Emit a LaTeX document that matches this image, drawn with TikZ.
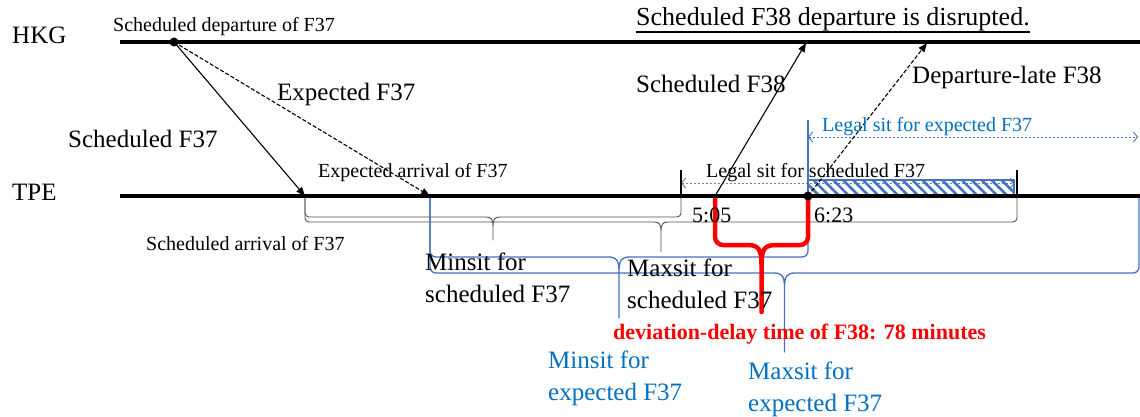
\documentclass[tikz,border=0pt]{standalone}
\usepackage{fontspec}
\setmainfont{Liberation Serif}
\usetikzlibrary{arrows.meta,patterns.meta}

\definecolor{bluetxt}{RGB}{0,112,192}
\definecolor{blueln}{RGB}{68,114,196}
\definecolor{grayln}{RGB}{80,80,80}
\definecolor{dotgray}{RGB}{127,127,127}

% brace hanging under the TPE line: x1, x2, depth, tip, corner, style
\newcommand{\sitbrace}[6]{%
  \draw[#6] (#1,196) -- (#1,#3-#5) to[out=-90,in=180] (#1+#5,#3)
    -- ({(#1+#2)/2-1.8*#5},#3)
    .. controls ({(#1+#2)/2-0.4*#5},#3) and ({(#1+#2)/2},#3+0.5*#5) .. ({(#1+#2)/2},#3+2.5*#5)
    -- ({(#1+#2)/2},#4) -- ({(#1+#2)/2},#3+2.5*#5)
    .. controls ({(#1+#2)/2},#3+0.5*#5) and ({(#1+#2)/2+0.4*#5},#3) .. ({(#1+#2)/2+1.8*#5},#3)
    -- (#2-#5,#3) to[out=0,in=-90] (#2,#3-#5) -- (#2,196);}

\begin{document}
\begin{tikzpicture}[
  x=1pt, y=-1pt,
  big/.style={font=\fontsize{25}{32}\selectfont,inner sep=0pt,align=left,anchor=base west},
  small/.style={font=\fontsize{20}{24}\selectfont,inner sep=0pt,anchor=base west},
  time/.style={font=\fontsize{22}{26}\selectfont,inner sep=0pt,anchor=base west},
  route/.style={line width=3.2pt},
  arr/.style={-{Triangle[length=9pt,width=7pt]},line width=1.1pt},
  arrd/.style={-{Triangle[length=9pt,width=7pt]},line width=1.1pt,dash pattern=on 4pt off 2pt},
  tick/.style={line width=1.4pt},
  gdot/.style={{Straight Barb[length=4pt,width=10pt]}-{Straight Barb[length=4pt,width=10pt]},dotgray,line width=0.9pt,dash pattern=on 2pt off 2pt},
  bdot/.style={{Straight Barb[length=4pt,width=10pt]}-{Straight Barb[length=4pt,width=10pt]},blueln,line width=0.9pt,dash pattern=on 2pt off 2pt},
  brc/.style={grayln,line width=0.9pt,line join=round},
  bbrc/.style={blueln,line width=1.3pt,line join=round},
  rbrc/.style={red,line width=4.5pt,line join=round}
]
\useasboundingbox (0,0) rectangle (1140,416);

% time points
\coordinate (dep37) at (174,42);
\coordinate (sarr37) at (305,196);
\coordinate (earr37) at (430,196);
\coordinate (sdep38) at (715,196);
\coordinate (sarr38) at (806,43);
\coordinate (ldep38) at (808,196);
\coordinate (larr38) at (927,43);
\coordinate (lsl) at (681,183);
\coordinate (lsr) at (1015,183);
\coordinate (lel) at (808,137);
\coordinate (ler) at (1138,137);

% sit braces
\sitbrace{305}{681}{217}{240}{4}{brc}
\sitbrace{305}{1017}{222}{252}{4}{brc}
\sitbrace{430}{808}{257}{318}{6}{bbrc}
\sitbrace{430}{1139}{273}{352}{6}{bbrc}
\sitbrace{715}{808}{245}{312}{8}{rbrc}

% legal sit
\draw[gdot] (lsl) -- (lsr);
\draw[blueln,line width=1.2pt,fill=white,pattern={Lines[angle=-45,distance=7pt,line width=2.6pt]},pattern color=blueln]
  (808,180) rectangle (1014,196);
\draw[tick] (681,170) -- (681,196);
\draw[tick] (1017,170) -- (1017,196);
\draw[blueln,line width=1.3pt] (808,120) -- (808,196);
\draw[bdot] (lel) -- (ler);

% stations
\draw[route] (120,42) -- (1140,42);
\draw[route] (120,196) -- (1140,196);

% flights
\draw[arr] (dep37) -- (sarr37);
\draw[arrd] (dep37) -- (earr37);
\draw[arr] (sdep38) -- (sarr38);
\draw[arrd] (ldep38) -- (larr38);
\fill (dep37) circle (4.5);
\fill (ldep38) circle (4.5);

% labels
\node[big] (hkg) at (12,43) {HKG};
\node[big] (tpe) at (12,200) {TPE};
\node[small] (sdep) at (113,31) {Scheduled departure of F37};
\node[big] (exp37) at (277,100) {Expected F37};
\node[big] (sch37) at (68,147) {Scheduled F37};
\node[small] (earr) at (318,177) {Expected arrival of F37};
\node[small] (sarr) at (146,250) {Scheduled arrival of F37};
\node[big] (sch38) at (636,92) {Scheduled F38};
\node[big] (late38) at (912,83) {Departure-late F38};
\node[big,font=\fontsize{26}{30}\selectfont] (title) at (636,25) {Scheduled F38 departure is disrupted.};
\draw[line width=1.6pt] ([yshift=-7pt]title.base west) -- ([yshift=-7pt]title.base east);
\node[small] (lsch) at (706,177) {Legal sit for scheduled F37};
\node[small,text=bluetxt] (lexp) at (822,131) {Legal sit for expected F37};
\node[time] (t505) at (692,222) {5:05};
\node[time] (t623) at (814,222) {6:23};
\node[big] (minsch) at (425,302) {Minsit for\\scheduled F37};
\node[big] (maxsch) at (627,308) {Maxsit for\\scheduled F37};
\node[big,text=bluetxt] (minexp) at (548,400) {Minsit for\\expected F37};
\node[big,text=bluetxt] (maxexp) at (748,411) {Maxsit for\\expected F37};
\node[time,text=red,font=\fontsize{22}{26}\selectfont\bfseries] (dev) at (613,339) {deviation-delay time of F38: 78 minutes};
\end{tikzpicture}
\end{document}
